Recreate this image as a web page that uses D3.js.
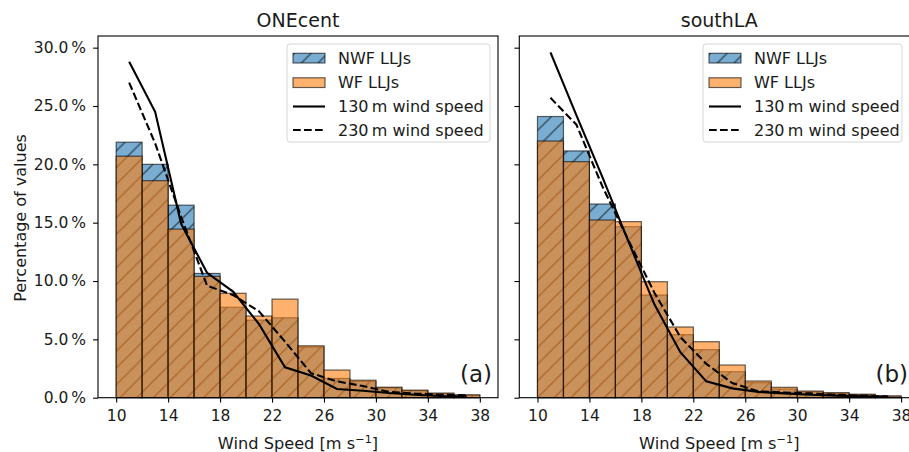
<!DOCTYPE html>
<html>
<head>
<meta charset="utf-8">
<script src="https://d3js.org/d3.v7.min.js"></script>
<style>
  body { margin: 0; background: #fff; }
  text { font-family: "DejaVu Sans", sans-serif; fill: #1a1a1a; }
</style>
</head>
<body>
<div id="chart"></div>
<script>
// histogram bins (m/s) and centres used by the wind speed lines
const binStarts = [10, 12, 14, 16, 18, 20, 22, 24, 26, 28, 30, 32, 34, 36];
const binCentres = [11, 13, 15, 17, 19, 21, 23, 25, 27, 29, 31, 33, 35, 37];

// ONEcent (%)
const oneNWF = [21.9, 20.0, 16.5, 10.65, 7.75, 6.65, 6.85, 4.35, 1.65, 1.4, 0.85, 0.6, 0.35, 0.2];
const oneWF  = [20.7, 18.6, 14.45, 10.4, 8.95, 7.0, 8.45, 4.45, 2.37, 1.5, 0.9, 0.65, 0.4, 0.25];
const one130 = [28.8, 24.5, 14.9, 10.7, 9.1, 6.3, 2.6, 1.9, 0.75, 0.6, 0.4, 0.25, 0.15, 0.1];
const one230 = [27.0, 21.8, 15.5, 9.6, 8.8, 7.4, 4.8, 2.1, 1.4, 1.0, 0.5, 0.35, 0.25, 0.2];

// southLA (%)
const southNWF = [24.1, 21.15, 16.6, 14.66, 8.8, 5.4, 4.12, 2.23, 1.29, 0.75, 0.5, 0.38, 0.25, 0.12];
const southWF  = [22.0, 20.23, 15.23, 15.09, 9.94, 6.06, 4.8, 2.8, 1.43, 0.89, 0.57, 0.43, 0.3, 0.15];
const south130 = [29.6, 24.2, 18.9, 13.4, 8.0, 3.9, 1.4, 0.8, 0.5, 0.37, 0.25, 0.18, 0.12, 0.08];
const south230 = [25.7, 23.4, 18.1, 13.5, 9.0, 5.2, 2.9, 1.25, 0.55, 0.45, 0.37, 0.25, 0.18, 0.1];

const xTicks = [10, 14, 18, 22, 26, 30, 34, 38];
const yTicks = [0, 5, 10, 15, 20, 25, 30];
const titles = ["ONEcent", "southLA"];
const tags = ["(a)", "(b)"];
const legendLabels = ["NWF LLJs", "WF LLJs", "130\u2009m wind speed", "230\u2009m wind speed"];

const W = 909, H = 452
const plotTop = 36, plotBottom = 397.7, pw = 400
const panels = [
    {x0: 98, nwf: oneNWF, wf: oneWF, l130: one130, l230: one230, legX: 287, legW: 203, tagX: 492},
    {x0: 519.3, nwf: southNWF, wf: southWF, l130: south130, l230: south230, legX: 703, legW: 199, tagX: 908}
]

const blue = "rgba(31,119,180,0.6)"
const orange = "rgba(255,127,14,0.6)"
const edge = "rgba(0,0,0,0.6)"

const svg = d3.select("#chart").append("svg")
    .attr("width", W)
    .attr("height", H)

// hatch pattern, matplotlib '/' at ~6 lines per inch
const hs = 16.7
const defs = svg.append("defs")
const pat = defs.append("pattern")
    .attr("id", "hatch")
    .attr("patternUnits", "userSpaceOnUse")
    .attr("width", hs)
    .attr("height", hs)
pat.append("path")
    .attr("d", `M0,${hs} L${hs},0 M${-hs/2},${hs/2} L${hs/2},${-hs/2} M${hs/2},${hs*1.5} L${hs*1.5},${hs/2}`)
    .attr("stroke", edge)
    .attr("stroke-width", 1.3)

const y = d3.scaleLinear().domain([0, 31.0]).range([plotBottom, plotTop])

panels.forEach((p, i) => {
    const x = d3.scaleLinear().domain([8.6, 39.4]).range([p.x0, p.x0 + pw])
    const g = svg.append("g")

    // NWF bars (hatched), drawn first
    const nwf = g.append("g")
    nwf.selectAll("rect.fill")
        .data(binStarts)
      .enter().append("rect")
        .attr("x", d => x(d))
        .attr("width", d => x(d + 2) - x(d))
        .attr("y", (d, k) => y(p.nwf[k]))
        .attr("height", (d, k) => plotBottom - y(p.nwf[k]))
        .attr("fill", blue)
    nwf.selectAll("rect.hatch")
        .data(binStarts)
      .enter().append("rect")
        .attr("x", d => x(d))
        .attr("width", d => x(d + 2) - x(d))
        .attr("y", (d, k) => y(p.nwf[k]))
        .attr("height", (d, k) => plotBottom - y(p.nwf[k]))
        .attr("fill", "url(#hatch)")
        .attr("stroke", edge)
        .attr("stroke-width", 1.2)

    // WF bars on top
    g.append("g").selectAll("rect")
        .data(binStarts)
      .enter().append("rect")
        .attr("x", d => x(d))
        .attr("width", d => x(d + 2) - x(d))
        .attr("y", (d, k) => y(p.wf[k]))
        .attr("height", (d, k) => plotBottom - y(p.wf[k]))
        .attr("fill", orange)
        .attr("stroke", edge)
        .attr("stroke-width", 1.2)

    const line = d3.line().x((d, k) => x(binCentres[k])).y(d => y(d))
    g.append("path")
        .attr("d", line(p.l130))
        .attr("fill", "none")
        .attr("stroke", "#000")
        .attr("stroke-width", 2.1)
    g.append("path")
        .attr("d", line(p.l230))
        .attr("fill", "none")
        .attr("stroke", "#000")
        .attr("stroke-width", 2.1)
        .attr("stroke-dasharray", "7.7,3.3")

    // axes
    const xAxis = d3.axisBottom(x).tickValues(xTicks).tickSize(4.9).tickPadding(7.5)
    const gx = g.append("g").attr("transform", `translate(0,${plotBottom})`).call(xAxis)
    const yAxis = d3.axisLeft(y).tickValues(yTicks).tickSize(4.9).tickPadding(7)
        .tickFormat(i === 0 ? (d => d.toFixed(1) + "\u2009%") : "")
    const gy = g.append("g").attr("transform", `translate(${p.x0},0)`).call(yAxis)
    ;[gx, gy].forEach(a => {
        a.select(".domain").remove()
        a.selectAll("line").attr("stroke", "#000").attr("stroke-width", 1.1)
        a.selectAll("text").style("font-size", "15.5px").style("font-family", "DejaVu Sans").attr("fill", "#1a1a1a")
    })
    gx.selectAll("text").attr("dy", "0.72em")

    // frame
    g.append("rect")
        .attr("x", p.x0)
        .attr("y", plotTop)
        .attr("width", pw)
        .attr("height", plotBottom - plotTop)
        .attr("fill", "none")
        .attr("stroke", "#000")
        .attr("stroke-width", 1.1)

    g.append("text")
        .attr("x", p.x0 + pw / 2)
        .attr("y", 26.6)
        .attr("text-anchor", "middle")
        .style("font-size", "19px")
        .text(titles[i])

    g.append("text")
        .attr("x", p.tagX)
        .attr("y", 382)
        .attr("text-anchor", "end")
        .style("font-size", "23px")
        .text(tags[i])

    const xl = g.append("text")
        .attr("x", p.x0 + pw / 2)
        .attr("y", 448.5)
        .attr("text-anchor", "middle")
        .style("font-size", "16.2px")
    xl.append("tspan").text("Wind Speed [m s")
    xl.append("tspan").attr("dy", -6).style("font-size", "11.3px").text("\u22121")
    xl.append("tspan").attr("dy", 6).text("]")

    // legend
    const lg = g.append("g").attr("transform", `translate(${p.legX},44)`)
    lg.append("rect")
        .attr("width", p.legW)
        .attr("height", 98)
        .attr("rx", 3)
        .attr("fill", "rgba(255,255,255,0.8)")
        .attr("stroke", "#d6d6d6")
        .attr("stroke-width", 1)
    const rowY = [14, 38.5, 62.5, 86]
    const hx0 = 6, hx1 = 38
    lg.append("rect").attr("x", hx0).attr("y", rowY[0] - 4.7).attr("width", hx1 - hx0).attr("height", 9.7)
        .attr("fill", blue)
    lg.append("rect").attr("x", hx0).attr("y", rowY[0] - 4.7).attr("width", hx1 - hx0).attr("height", 9.7)
        .attr("fill", "url(#hatch)").attr("stroke", edge).attr("stroke-width", 1.2)
    lg.append("rect").attr("x", hx0).attr("y", rowY[1] - 4.7).attr("width", hx1 - hx0).attr("height", 9.7)
        .attr("fill", orange).attr("stroke", edge).attr("stroke-width", 1.2)
    lg.append("line").attr("x1", hx0).attr("x2", hx1).attr("y1", rowY[2]).attr("y2", rowY[2])
        .attr("stroke", "#000").attr("stroke-width", 2.1)
    lg.append("line").attr("x1", hx0).attr("x2", hx1).attr("y1", rowY[3]).attr("y2", rowY[3])
        .attr("stroke", "#000").attr("stroke-width", 2.1).attr("stroke-dasharray", "7.7,3.3")
    lg.selectAll("text.lab")
        .data(legendLabels)
      .enter().append("text")
        .attr("x", 51)
        .attr("y", (d, k) => rowY[k] + 5.8)
        .style("font-size", "16px")
        .text(d => d)
})

svg.append("text")
    .attr("transform", "translate(25.5,218) rotate(-90)")
    .attr("text-anchor", "middle")
    .style("font-size", "16px")
    .text("Percentage of values")
</script>
</body>
</html>
